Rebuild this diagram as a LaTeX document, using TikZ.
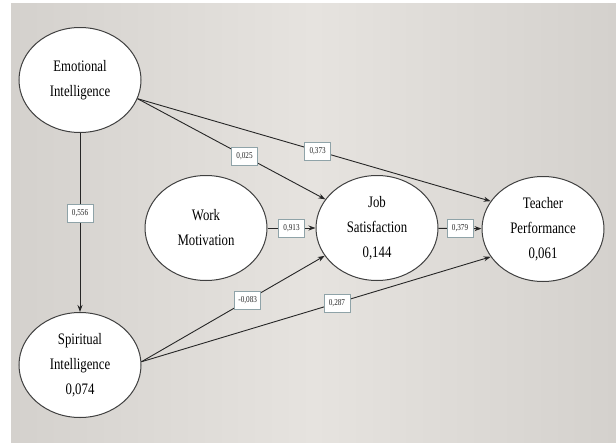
\documentclass[tikz,border=0pt]{standalone}
\usepackage{fontspec}
\usepackage{tikz}
\usetikzlibrary{shapes.geometric,arrows.meta}
\newfontfamily\narrowserif[FakeStretch=0.8]{Liberation Serif}
\definecolor{slidegrey}{HTML}{E6E3DF}
\definecolor{slideedge}{HTML}{D4D1CD}
\definecolor{boxline}{HTML}{8FA3A8}

\begin{document}
\begin{tikzpicture}[x=1pt,y=-1pt,
    latent/.style={ellipse,draw=black!75,line width=1pt,fill=white,
      minimum width=122pt,minimum height=105pt,inner sep=0pt,align=center,
      font=\narrowserif\fontsize{16}{25}\selectfont},
    coef/.style={draw=boxline,line width=0.8pt,fill=white,inner sep=0pt,
      minimum width=26pt,minimum height=18pt,
      font=\narrowserif\fontsize{9}{10}\selectfont},
    link/.style={line width=0.9pt,black!85,-{Stealth[length=7pt,width=5pt]}}]
      \useasboundingbox (0,0) rectangle (616,442);
      \shade[left color=slideedge,right color=slideedge,middle color=slidegrey]
        (11,3) rectangle (616,442);
      % constructs
      \node[latent] (ei) at (80,80) {Emotional\\Intelligence};
      \node[latent] (si) at (80,365) {Spiritual\\Intelligence\\0,074};
      \node[latent] (wm) at (206,228) {Work\\Motivation};
      \node[latent] (js) at (377,228) {Job\\Satisfaction\\0,144};
      \node[latent] (tp) at (543,229) {Teacher\\Performance\\0,061};
      % paths with coefficients
      \draw[link] (ei) -- (si) node[coef,pos=0.45] (c1) {0,556};
      \draw[link] (ei.-18) -- (js.151) node[coef,pos=0.57] (c2) {0,025};
      \draw[link] (ei.-18) -- (tp.152) node[coef,pos=0.51] (c3) {0,373};
      \draw[link] (wm) -- (js) node[coef,midway] (c4) {0,913};
      \draw[link] (js) -- (tp) node[coef,midway] (c5) {0,379};
      \draw[link] (si.3) -- (js.208) node[coef,pos=0.58] (c6) {-0,083};
      \draw[link] (si.3) -- (tp.208) node[coef,pos=0.56] (c7) {0,287};
    \end{tikzpicture}
\end{document}
